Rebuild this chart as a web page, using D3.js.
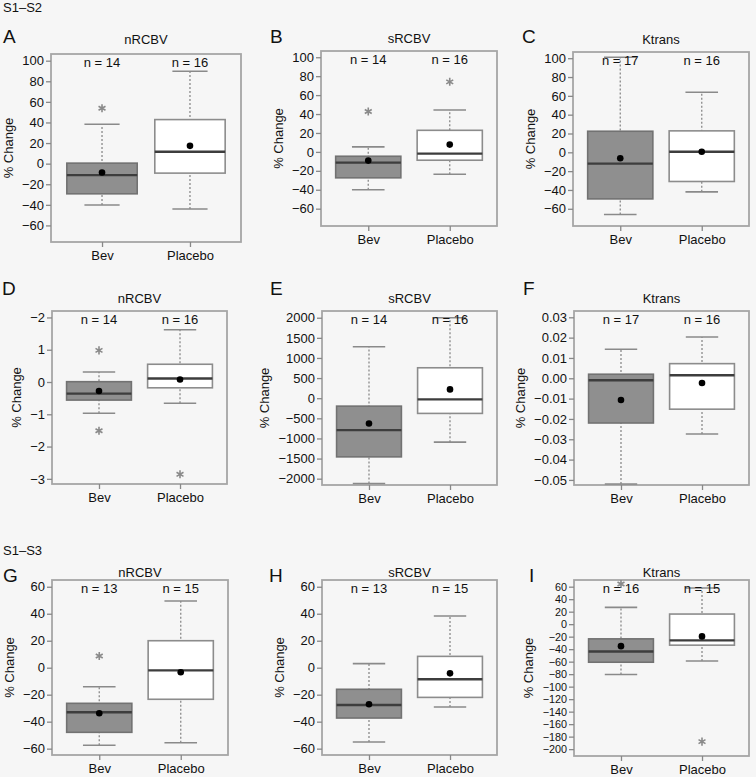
<!DOCTYPE html>
<html><head><meta charset="utf-8">
<script src="https://cdn.jsdelivr.net/npm/d3@7"></script>
<style>
body{margin:0;background:#f6f6f6}
svg{display:block}
text{font-family:"Liberation Sans",Arial,Helvetica,sans-serif}
</style>
</head><body>
<svg id="c" width="756" height="777"></svg>
<script>
// ---------------- DATA ----------------
const groups = ["Bev", "Placebo"];
const panelLetters = ["A","B","C","D","E","F","G","H","I"];
const panelTitles = ["nRCBV","sRCBV","Ktrans","nRCBV","sRCBV","Ktrans","nRCBV","sRCBV","Ktrans"];
const sectionLabels = ["S1–S2", "S1–S3"];
const yTitle = "% Change";
const nBev     = [14, 14, 17, 14, 14, 17, 13, 13, 16];
const nPlacebo = [16, 16, 16, 16, 16, 16, 15, 15, 15];

const yDomains = [
  [-76.1, 106.5], [-78.3, 106.6], [-78.3, 106.6],
  [-3.16, 2.2], [-2157, 2167], [-0.0525, 0.0331],
  [-64.7, 65], [-64.7, 65], [-211, 70.7]
];
const tickValues = [
  [100,80,60,40,20,0,-20,-40,-60],
  [100,80,60,40,20,0,-20,-40,-60],
  [100,80,60,40,20,0,-20,-40,-60],
  [2,1,0,-1,-2,-3],
  [2000,1500,1000,500,0,-500,-1000,-1500,-2000],
  [0.03,0.02,0.01,0,-0.01,-0.02,-0.03,-0.04,-0.05],
  [60,40,20,0,-20,-40,-60],
  [60,40,20,0,-20,-40,-60],
  [60,40,20,0,-20,-40,-60,-80,-100,-120,-140,-160,-180,-200]
];
const tickLabels = [
  ["100","80","60","40","20","0","−20","−40","−60"],
  ["100","80","60","40","20","0","−20","−40","−60"],
  ["100","80","60","40","20","0","−20","−40","−60"],
  ["−2","1","0","−1","−2","−3"],
  ["2000","1500","1000","500","0","−500","−1000","−1500","−2000"],
  ["0.03","0.02","0.01","0.00","−0.01","−0.02","−0.03","−0.04","−0.05"],
  ["60","40","20","0","−20","−40","−60"],
  ["60","40","20","0","−20","−40","−60"],
  ["60","40","20","0","−20","−40","−60","−80","−100","−120","−140","−160","−180","−200"]
];

// Bev group statistics per panel
const bevLow    = [-40.2, -40, -66, -0.97, -2119, -0.052, -57.5, -55.1, -80.6];
const bevQ1     = [-29.3, -27.4, -49.5, -0.56, -1458, -0.022, -47.9, -37.3, -60.9];
const bevMedian = [-11.1, -11.3, -12, -0.36, -793, -0.001, -33, -27.6, -43.7];
const bevQ3     = [0.5, -4.6, 22.4, 0.01, -197, 0.002, -26.4, -16, -23.5];
const bevHigh   = [38.3, 5.3, 101, 0.31, 1279, 0.0143, -14.1, 3, 26.9];
const bevMean   = [-8.6, -9.2, -6.3, -0.28, -627, -0.0107, -33.8, -27.1, -35.2];
const bevOutliers = [[53.8], [42.7], [], [0.98, -1.51], [], [], [8.7], [], [64.3]];

// Placebo group statistics per panel
const plaLow    = [-44.1, -23.6, -42, -0.66, -1092, -0.0274, -55.6, -29.1, -58.9];
const plaQ1     = [-9.2, -8.8, -31, -0.18, -378, -0.0152, -23.4, -22, -33.6];
const plaMedian = [11.5, -1.8, 0.6, 0.11, -30, 0.0015, -2, -8.6, -26];
const plaQ3     = [42.8, 22.8, 22.8, 0.55, 756, 0.0072, 20, 8.4, 16.2];
const plaHigh   = [89.7, 44.2, 63.8, 1.62, 2000, 0.0203, 49.4, 38.3, 57.9];
const plaMean   = [17.3, 7.7, 0.6, 0.08, 219, -0.0023, -3.4, -4.2, -19.6];
const plaOutliers = [[], [74], [], [-2.86], [], [], [], [], [-188]];

// ---------------- LAYOUT ----------------
// plot frames: [x0, y0, x1, y1]
const frames = [
  [51, 54, 241, 242], [321, 51, 497, 226], [573, 52, 749, 226],
  [52, 311, 227, 484], [322, 311, 497, 485], [574, 311, 749, 485],
  [52, 580, 228, 755], [322, 580, 497, 755], [574, 580, 749, 756]
];
const letterPos = [[3,43],[270,43],[522,43],[2,295],[270,295],[523,295],[3,582],[269,582],[529,582]];
const titleGap = [10, 8, 8, 8, 8, 8, 3, 3, 3];
const tickFont = [13, 13, 13, 13, 13, 13, 13, 13, 10.8];
const sectionPos = [[3,12],[3,555]];

const svg = d3.select("#c");
svg.append("rect").attr("width",756).attr("height",777).attr("fill","#f6f6f6");

sectionLabels.forEach((s,i)=>{
  svg.append("text").attr("x",sectionPos[i][0]).attr("y",sectionPos[i][1])
    .attr("font-size",13).attr("fill","#111").text(s);
});

const starPath = d3.symbol().type(d3.symbolAsterisk).size(45)();

panelLetters.forEach((letter, i) => {
  const [x0,y0,x1,y1] = frames[i];
  const g = svg.append("g");
  const y = d3.scaleLinear().domain(yDomains[i]).range([y1, y0]);
  const x = d3.scalePoint().domain(groups).range([x0, x1]).padding(0.58);
  const bw = x.step() * 0.8;

  // frame
  g.append("rect").attr("x",x0).attr("y",y0).attr("width",x1-x0).attr("height",y1-y0)
    .attr("fill","none").attr("stroke","#a6a6a6").attr("stroke-width",1.8);

  // y axis
  const ya = g.append("g").attr("transform",`translate(${x0},0)`)
    .call(d3.axisLeft(y).tickValues(tickValues[i])
      .tickFormat((d,j)=>tickLabels[i][j]).tickSize(5).tickPadding(2));
  ya.select(".domain").remove();
  ya.attr("font-family",null).attr("font-size",tickFont[i]);
  ya.selectAll(".tick line").attr("stroke","#888").attr("stroke-width",1.3);
  ya.selectAll(".tick text").attr("font-size",tickFont[i]).attr("fill","#111");

  // x axis
  const xa = g.append("g").attr("transform",`translate(0,${y1})`)
    .call(d3.axisBottom(x).tickSize(5).tickPadding(4));
  xa.select(".domain").remove();
  xa.attr("font-family",null).attr("font-size",13);
  xa.selectAll(".tick line").attr("stroke","#888").attr("stroke-width",1.3);
  xa.selectAll(".tick text").attr("font-size",13).attr("fill","#111");

  // boxes
  const stats = [
    {grp:"Bev", n:nBev[i], lo:bevLow[i], q1:bevQ1[i], med:bevMedian[i], q3:bevQ3[i], hi:bevHigh[i], mean:bevMean[i], out:bevOutliers[i], fill:"#8f8f8f", stroke:"#727272"},
    {grp:"Placebo", n:nPlacebo[i], lo:plaLow[i], q1:plaQ1[i], med:plaMedian[i], q3:plaQ3[i], hi:plaHigh[i], mean:plaMean[i], out:plaOutliers[i], fill:"#ffffff", stroke:"#8c8c8c"}
  ];
  stats.forEach(s => {
    const cx = x(s.grp);
    g.append("line").attr("x1",cx).attr("x2",cx).attr("y1",y(s.lo)).attr("y2",y(s.hi))
      .attr("stroke","#8a8a8a").attr("stroke-width",1.3).attr("stroke-dasharray","2,2");
    [s.lo, s.hi].forEach(v => {
      g.append("line").attr("x1",cx-bw/4).attr("x2",cx+bw/4).attr("y1",y(v)).attr("y2",y(v))
        .attr("stroke","#8a8a8a").attr("stroke-width",1.6);
    });
    g.append("rect").attr("x",cx-bw/2).attr("y",y(s.q3)).attr("width",bw)
      .attr("height",y(s.q1)-y(s.q3)).attr("fill",s.fill).attr("stroke",s.stroke).attr("stroke-width",1.6);
    g.append("line").attr("x1",cx-bw/2).attr("x2",cx+bw/2).attr("y1",y(s.med)).attr("y2",y(s.med))
      .attr("stroke","#3d3d3d").attr("stroke-width",2.4);
    g.append("circle").attr("cx",cx).attr("cy",y(s.mean)).attr("r",3.3).attr("fill","#000");
    s.out.forEach(v => {
      g.append("path").attr("d",starPath).attr("transform",`translate(${cx},${y(v)})`)
        .attr("fill","none").attr("stroke","#8a8a8a").attr("stroke-width",1.6);
    });
    g.append("text").attr("x",cx).attr("y",y0+13).attr("text-anchor","middle")
      .attr("font-size",13).attr("fill","#111").text("n = " + s.n);
  });

  // title
  g.append("text").attr("x",(x0+x1)/2).attr("y",y0-titleGap[i]).attr("text-anchor","middle")
    .attr("font-size",13).attr("fill","#111").text(panelTitles[i]);

  // letter
  g.append("text").attr("x",letterPos[i][0]).attr("y",letterPos[i][1])
    .attr("font-size",19).attr("fill","#111").text(letter);

  // y title
  const bb = ya.node().getBBox();
  const tx = bb.x + x0 - 14;
  g.append("text").attr("transform",`translate(${tx},${(y0+y1)/2}) rotate(-90)`)
    .attr("text-anchor","middle").attr("dy","0.35em")
    .attr("font-size",13).attr("fill","#111").text(yTitle);
});
</script>
</body></html>
